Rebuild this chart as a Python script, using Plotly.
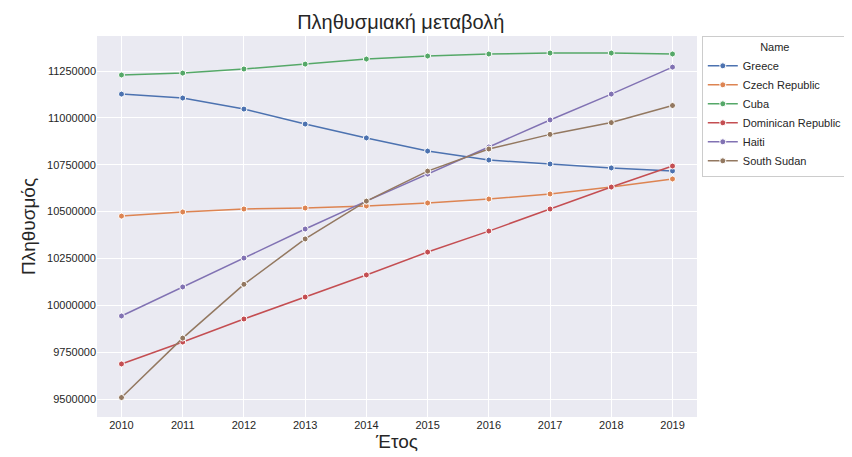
import plotly.graph_objects as go

years = list(range(2010, 2020))
greece = [11127000, 11106000, 11047000, 10967000, 10893000, 10823000, 10775000, 10754000, 10733000, 10717000]
czech = [10476000, 10498000, 10514000, 10519000, 10530000, 10546000, 10567000, 10594000, 10631000, 10674000]
cuba = [11229000, 11239000, 11261000, 11287000, 11314000, 11330000, 11341000, 11346000, 11346000, 11341000]
dominican = [9687000, 9804000, 9927000, 10044000, 10162000, 10284000, 10396000, 10514000, 10631000, 10743000]
haiti = [9943000, 10098000, 10252000, 10407000, 10556000, 10700000, 10845000, 10989000, 11127000, 11271000]
south_sudan = [9508000, 9825000, 10112000, 10354000, 10556000, 10716000, 10834000, 10912000, 10975000, 11066000]

series = [("Greece", greece, "#4C72B0"), ("Czech Republic", czech, "#DD8452"),
          ("Cuba", cuba, "#55A868"), ("Dominican Republic", dominican, "#C44E52"),
          ("Haiti", haiti, "#8172B3"), ("South Sudan", south_sudan, "#937860")]

fig = go.Figure()
for name, vals, col in series:
    fig.add_trace(go.Scatter(x=years, y=vals, name=name, mode="lines+markers",
                             line=dict(color=col, width=1.5),
                             marker=dict(color=col, size=6, line=dict(color="white", width=1))))

fig.update_layout(
    width=852, height=457, paper_bgcolor="white", plot_bgcolor="#EAEAF2",
    margin=dict(l=89, r=151, t=28, b=48, pad=0),
    font=dict(family="Liberation Sans, Arial", size=11, color="#262626"),
    title=dict(text="Πληθυσμιακή μεταβολή", x=0.461, xanchor="center", y=0.985, yanchor="top",
               font=dict(size=20)),
    legend=dict(title=dict(text="Name", side="top center", font=dict(size=11)), x=1.008, y=1,
                xanchor="left", yanchor="top", itemwidth=30, tracegroupgap=0,
                bgcolor="white", bordercolor="#CCCCCC", borderwidth=1, font=dict(size=11)),
)
fig.update_xaxes(range=[2009.6, 2019.4], tickvals=years, showgrid=True, gridcolor="white",
                 zeroline=False, ticks="", title=dict(text="Έτος", font=dict(size=19), standoff=4))
fig.update_yaxes(range=[9404000, 11437000], dtick=250000, tickformat="d", showgrid=True,
                 gridcolor="white", zeroline=False, ticks="",
                 title=dict(text="Πληθυσμός", font=dict(size=19), standoff=6))
fig.write_html("out.html")
